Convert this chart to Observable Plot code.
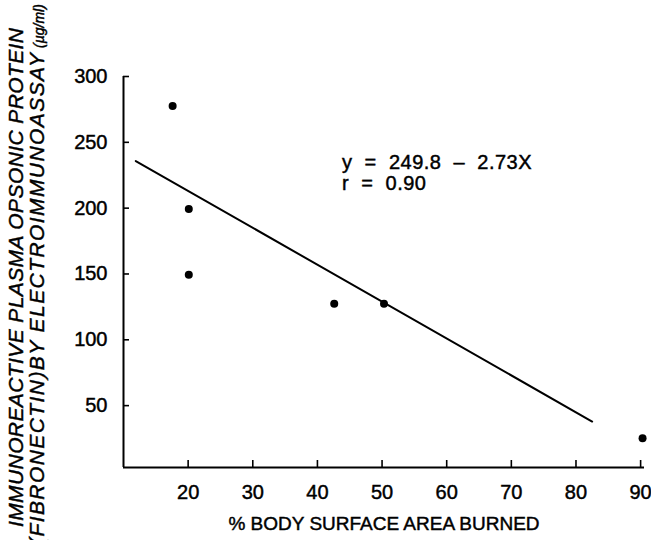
<!DOCTYPE html>
<html><head><meta charset="utf-8">
<script src="https://cdn.jsdelivr.net/npm/d3@7"></script>
<script src="https://cdn.jsdelivr.net/npm/@observablehq/plot@0.6"></script>
<style>
html,body{margin:0;padding:0;background:#fff;overflow:hidden;}
#chart svg{display:block;}
#chart svg text{stroke:#000;stroke-width:0.45px;}
</style>
</head><body><div id="chart"></div>
<script>
// Data
const burnPct = [17.6, 20.1, 20.1, 42.6, 50.3, 90.3];
const fibronectin = [277.6, 199.3, 149.4, 127.4, 127.4, 25.2];
const fitX = [11.9, 82.5];
const fitY = [235.8, 37.9];
const xTicks = [20, 30, 40, 50, 60, 70, 80, 90];
const yTicks = [50, 100, 150, 200, 250, 300];
const annotation = ["y  =  249.8  –  2.73X", "r  =  0.90"];
const xLabel = "% BODY SURFACE AREA BURNED";
const yLabel1 = "IMMUNOREACTIVE PLASMA OPSONIC PROTEIN";
const yLabel2 = "(FIBRONECTIN)BY ELECTROIMMUNOASSAY";
const yUnit = "(µg/ml)";

const points = burnPct.map((x, i) => ({x, y: fibronectin[i]}));
const fitLine = fitX.map((x, i) => ({x, y: fitY[i]}));

const W = 651, H = 540, mL = 123, mR = 7, mT = 76, mB = 73;
const plotW = W - mL - mR, plotH = H - mT - mB;
const FONT = "'Liberation Sans', Arial, Helvetica, sans-serif";

const chart = Plot.plot({
  width: W, height: H,
  marginLeft: mL, marginRight: mR, marginTop: mT, marginBottom: mB,
  style: {fontFamily: FONT, fontSize: "20px", color: "#000", background: "#fff"},
  x: {domain: [10, 90.6], axis: null},
  y: {domain: [3, 300], axis: null},
  marks: [
    Plot.ruleX([10], {stroke: "#000", strokeWidth: 2}),
    Plot.ruleY([3], {stroke: "#000", strokeWidth: 2}),
    Plot.tickX(xTicks, {x: d => d, insetTop: plotH - 7, stroke: "#000", strokeWidth: 1.6}),
    Plot.tickY(yTicks, {y: d => d, insetRight: plotW - 6, stroke: "#000", strokeWidth: 1.6}),
    Plot.axisX(xTicks, {tickSize: 0, tickPadding: 17, label: null, fontSize: 20}),
    Plot.axisY(yTicks, {tickSize: 0, tickPadding: 16, label: null, fontSize: 20}),
    Plot.line(fitLine, {x: "x", y: "y", stroke: "#000", strokeWidth: 2}),
    Plot.dot(points, {x: "x", y: "y", r: 4, fill: "#000", stroke: "none"}),
    Plot.text([annotation[0]], {x: 43.8, y: 230, text: d => d, textAnchor: "start", lineAnchor: "bottom", fontSize: 20}),
    Plot.text([annotation[1]], {x: 43.8, y: 213.5, text: d => d, textAnchor: "start", lineAnchor: "bottom", fontSize: 20}),
    Plot.text([xLabel], {frameAnchor: "bottom", dy: 56, text: d => d, lineAnchor: "middle", fontSize: 19})
  ]
});

const svg = d3.select(chart);
svg.selectAll("text")
  .filter(function() { return annotation.includes(this.textContent); })
  .attr("letter-spacing", 0.5);

const g = svg.append("g")
  .attr("font-style", "italic")
  .attr("font-family", FONT)
  .attr("text-anchor", "start")
  .attr("fill", "#000");
g.append("text")
  .attr("transform", "translate(23,527) rotate(-90)")
  .attr("font-size", 21)
  .attr("textLength", 499)
  .attr("lengthAdjust", "spacing")
  .text(yLabel1);
g.append("text")
  .attr("transform", "translate(44,545) rotate(-90)")
  .attr("font-size", 21)
  .attr("textLength", 492)
  .attr("lengthAdjust", "spacing")
  .text(yLabel2);
g.append("text")
  .attr("transform", "translate(44,48) rotate(-90)")
  .attr("font-size", 14)
  .text(yUnit);

document.getElementById("chart").appendChild(chart);
</script>
</body></html>
